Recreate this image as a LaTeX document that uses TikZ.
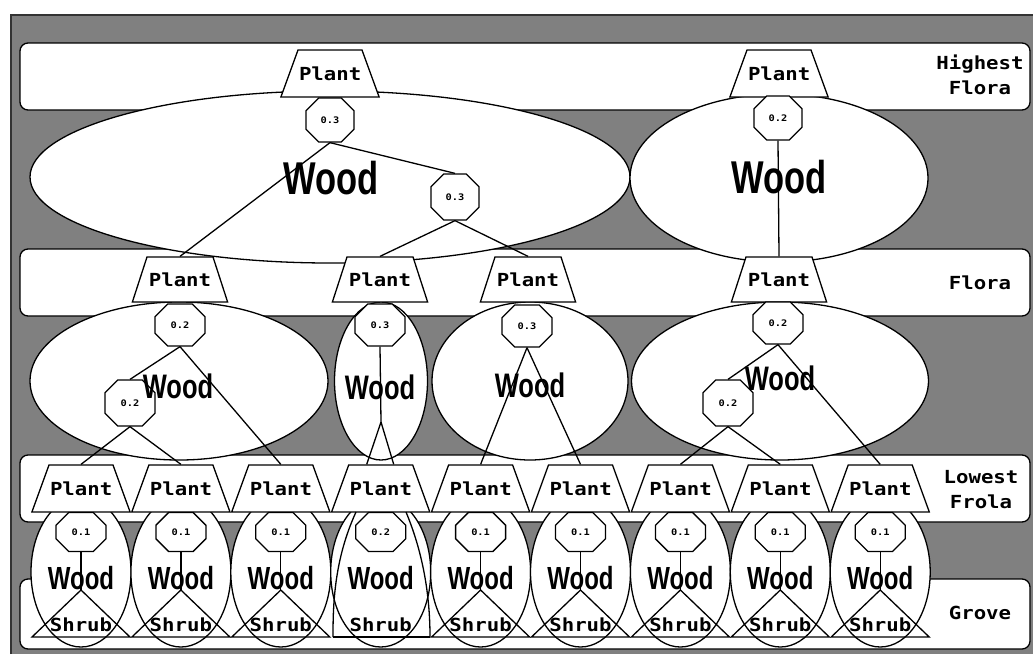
\documentclass[tikz,border=0pt]{standalone}
\usepackage{fontspec}
\usetikzlibrary{shapes.geometric,shapes.misc}
\newfontfamily\labfont[FakeStretch=1.15]{DejaVu Sans Mono}
\newfontfamily\woodfont[FakeStretch=0.75]{Liberation Sans}
\definecolor{bggray}{gray}{0.5}
\tikzset{
  band/.style={draw=black, fill=white, rounded corners=8pt, line width=1.3pt},
  plant/.style={trapezium, trapezium angle=70, text width=62pt, align=center, text height=14pt, text depth=0pt, inner xsep=1pt, inner ysep=16.5pt, draw, fill=white, line width=1.3pt, font=\labfont\bfseries\fontsize{18}{20}\selectfont},
  plantf/.style={plant, trapezium angle=72, text width=64pt, inner ysep=15.5pt},
  oct/.style={chamfered rectangle, chamfered rectangle xsep=10pt, chamfered rectangle ysep=11pt, minimum width=50pt, minimum height=42pt, inner sep=0pt, draw, fill=white, line width=1.3pt, font=\labfont\bfseries\fontsize{9}{9}\selectfont},
  ell/.style={ellipse, draw, fill=white, line width=1.3pt, inner sep=0pt},
  woodbig/.style={inner sep=0pt, font=\woodfont\bfseries\fontsize{46}{46}\selectfont},
  woodmid/.style={inner sep=0pt, font=\woodfont\bfseries\fontsize{34}{34}\selectfont},
  woodsmall/.style={inner sep=0pt, font=\woodfont\bfseries\fontsize{32}{32}\selectfont},
  lab/.style={inner sep=0pt, align=center, font=\labfont\bfseries\fontsize{18}{25}\selectfont},
  shrubtxt/.style={inner sep=0pt, font=\labfont\bfseries\fontsize{18}{20}\selectfont},
  conn/.style={line width=1.3pt},
}
\begin{document}
\begin{tikzpicture}[x=1pt,y=-1pt]
\useasboundingbox (0,0) rectangle (1033,654);
\fill[white] (0,0) rectangle (1033,654);
\fill[bggray] (11,15) rectangle (1033,654);
\draw[black!80, line width=1.3pt] (11,654) -- (11,15) -- (1033,15);
% bands
\draw[band] (20,43) rectangle (1030,110);
\draw[band] (20,249) rectangle (1030,316);
\draw[band] (20,455) rectangle (1030,522);
\draw[band] (20,579) rectangle (1030,649);
\node[lab] (lhf) at (980,75) {Highest\\Flora};
\node[lab] (lf) at (980,283) {Flora};
\node[lab] (llf) at (981,490) {Lowest\\Frola};
\node[lab] (lg) at (980,613) {Grove};
% top ellipses
\node[ell, minimum width=600pt, minimum height=172pt] (et1) at (330,177) {};
\node[ell, minimum width=298pt, minimum height=168pt] (et2) at (779,178) {};
% flora ellipses
\node[ell, minimum width=298pt, minimum height=158pt] (ef1) at (179,381) {};
\node[ell, minimum width=93pt, minimum height=158pt] (ef2) at (381,381) {};
\node[ell, minimum width=196pt, minimum height=158pt] (ef3) at (530,381) {};
\node[ell, minimum width=297pt, minimum height=158pt] (ef4) at (780,381) {};
% lowest ellipses
\foreach \i in {1,...,9}{
  \pgfmathsetmacro\xx{81+99.9*(\i-1)}
  \node[ell, minimum width=100pt, minimum height=150pt] (el\i) at (\xx,572) {};
}
% top level
\node[plant] (pt1) at (330,73.5) {Plant};
\node[plant] (pt2) at (779,73.5) {Plant};
\node[oct, minimum width=48pt, minimum height=44pt] (ot1) at (330,120) {0.3};
\node[oct, minimum width=48pt, minimum height=46pt] (ot2) at (455,197) {0.3};
\node[oct, minimum width=48pt, minimum height=44pt] (ot3) at (778,118) {0.2};
\node[woodbig] (wt1) at (331,178) {Wood};
\node[woodbig] (wt2) at (779,177) {Wood};
% flora level
\node[plantf] (pf1) at (180,279.5) {Plant};
\node[plantf] (pf2) at (380,279.5) {Plant};
\node[plantf] (pf3) at (528,279.5) {Plant};
\node[plantf] (pf4) at (779,279.5) {Plant};
\node[oct] (of1) at (180,325) {0.2};
\node[oct, minimum height=46pt] (of1b) at (130,403) {0.2};
\node[oct] (of2) at (380,325) {0.3};
\node[oct] (of3) at (527,326) {0.3};
\node[oct] (of4) at (778,323) {0.2};
\node[oct, minimum height=46pt] (of4b) at (728,403) {0.2};
\node[woodmid] (wf1) at (178,386) {Wood};
\node[woodmid] (wf2) at (380,387) {Wood};
\node[woodmid] (wf3) at (530,385) {Wood};
\node[woodmid] (wf4) at (780,378) {Wood};
% lowest level
\foreach \i/\v in {1/0.1,2/0.1,3/0.1,4/0.2,5/0.1,6/0.1,7/0.1,8/0.1,9/0.1}{
  \pgfmathsetmacro\xx{81+99.9*(\i-1)}
  \node[plant] (pl\i) at (\xx,488.5) {Plant};
  \node[oct, minimum height=39pt] (ol\i) at (\xx,532) {\v};
  \node[woodsmall] (wl\i) at (\xx,578) {Wood};
  \node[shrubtxt] (sl\i) at (\xx,625) {Shrub};
}
\foreach \i in {1,2,3,5,6,7,8,9}{
  \pgfmathsetmacro\xx{81+99.9*(\i-1)}
  \coordinate (ap\i) at (\xx,590);
  \draw[conn] (ap\i) -- (\xx-49,637) -- (\xx+49,637) -- cycle;
  \draw[conn] (ol\i.south) -- (ap\i);
}
% odd shrub of unit 4
\draw[conn] (356,512) .. controls (334,560) and (333,605) .. (333,637);
\draw[conn] (406,512) .. controls (426,560) and (430,605) .. (430,637);
\draw[conn] (333,637) -- (430,637);
% connectors top
\draw[conn] (ot1.south) -- (pf1.north);
\draw[conn] (ot1.south) -- (ot2.north);
\draw[conn] (ot2.south) -- (pf2.north);
\draw[conn] (ot2.south) -- (pf3.north);
\draw[conn] (ot3.south) -- (pf4.north);
% connectors flora
\draw[conn] (of1.south) -- (of1b.north);
\draw[conn] (of1.south) -- (pl3.north);
\draw[conn] (of1b.south) -- (pl1.north);
\draw[conn] (of1b.south) -- (pl2.north);
\coordinate (fk) at (381,422);
\draw[conn] (of2.south) -- (fk) -- ([xshift=-14pt]pl4.north);
\draw[conn] (fk) -- ([xshift=13pt]pl4.north);
\draw[conn] (of3.south) -- (pl5.north);
\draw[conn] (of3.south) -- (pl6.north);
\draw[conn] (of4.south) -- (of4b.north);
\draw[conn] (of4.south) -- (pl9.north);
\draw[conn] (of4b.south) -- (pl7.north);
\draw[conn] (of4b.south) -- (pl8.north);
\end{tikzpicture}
\end{document}
